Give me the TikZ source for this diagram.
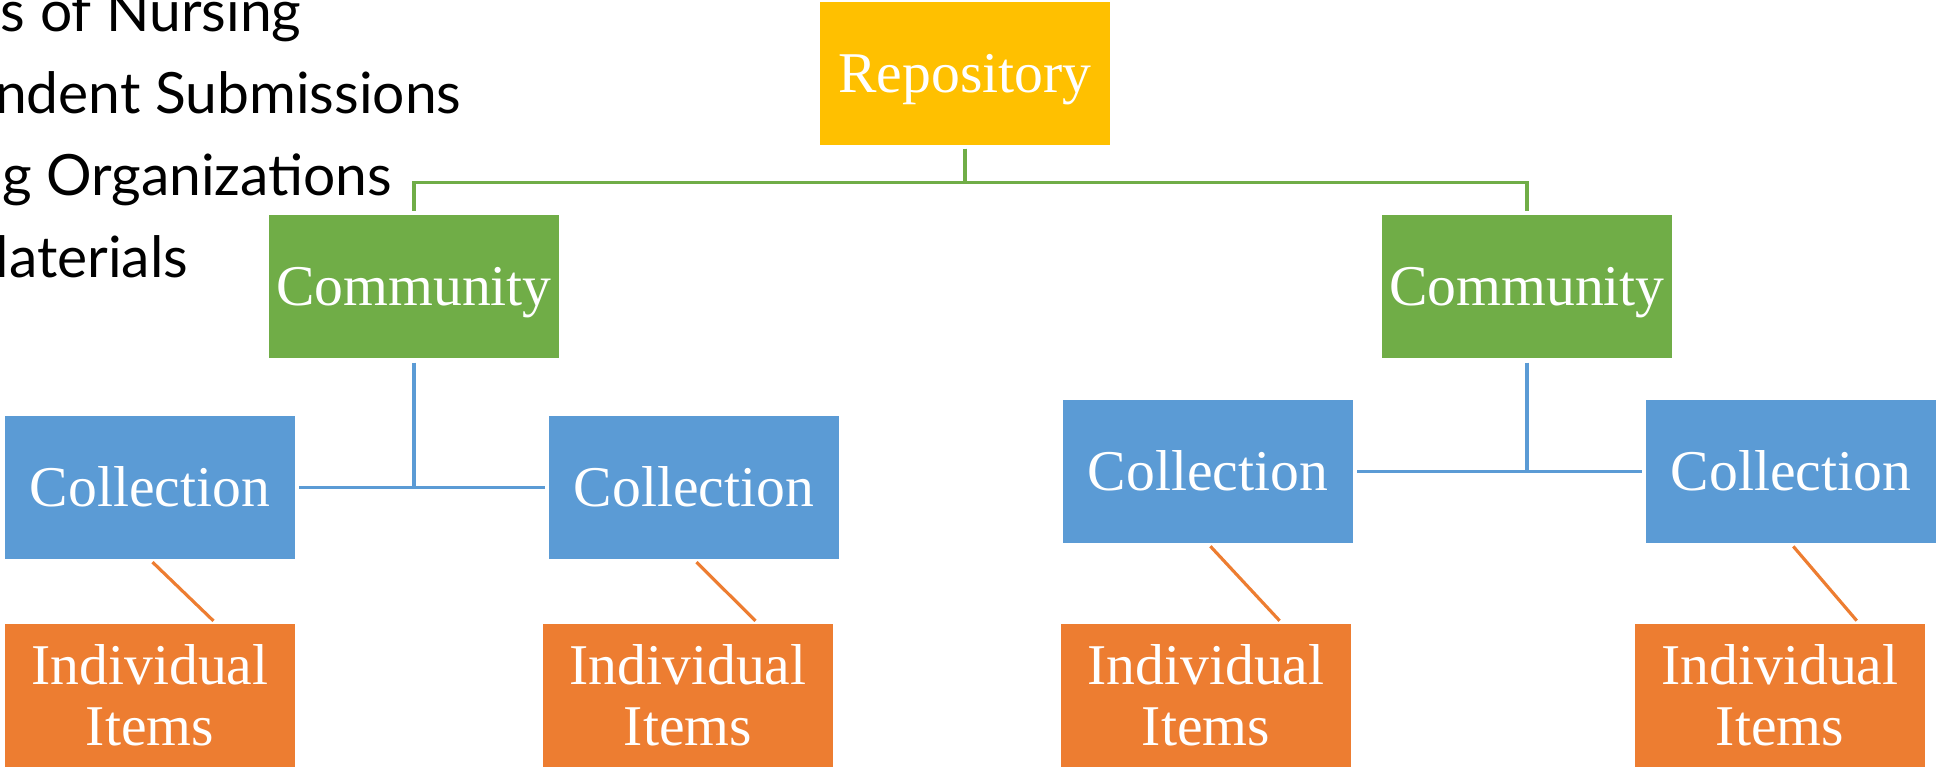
\documentclass[tikz,border=0pt]{standalone}
\usepackage{fontspec}
\setmainfont{Liberation Serif}
\newfontfamily\listfont{Lato}
\definecolor{repogold}{HTML}{FFC000}
\definecolor{comgreen}{HTML}{70AD47}
\definecolor{colblue}{HTML}{5B9BD5}
\definecolor{itemorange}{HTML}{ED7D31}
\tikzset{box/.style = {minimum width = 2.9cm, minimum height = 1.43cm, inner sep = 0, text = white, align = center,
                       font = \fontsize{16.4}{17.3}\selectfont}}
\tikzset{wordbox/.style = {box, text height = 0.48cm, text depth = 0.10cm}}
\tikzset{link/.style = {line width = 0.9pt}}
\tikzset{gap/.style = {shorten <= 0.035cm, shorten >= 0.035cm}}
\tikzset{listline/.style = {anchor = base east, inner sep = 0, font = \listfont\fontsize{16.2}{18}\selectfont}}

\begin{document}
\begin{tikzpicture}
    \useasboundingbox (0,0) rectangle (19.36,-7.67);
    % cut-off list on the left
    \node[listline] (txt1) at (3.02,-0.31) {s of Nursing};
    \node[listline] (txt2) at (4.62,-1.13) {ndent Submissions};
    \node[listline] (txt3) at (3.93,-1.95) {g Organizations};
    \node[listline] (txt4) at (1.89,-2.77) {laterials};
    % boxes
    \node[wordbox, fill = repogold] (repo) at (9.65,-0.73) {Repository};
    \node[wordbox, fill = comgreen] (comL) at (4.14,-2.865) {Community};
    \node[wordbox, fill = comgreen] (comR) at (15.27,-2.865) {Community};
    \node[wordbox, fill = colblue] (colL1) at (1.50,-4.875) {Collection};
    \node[wordbox, fill = colblue] (colL2) at (6.94,-4.875) {Collection};
    \node[wordbox, fill = colblue] (colR1) at (12.08,-4.715) {Collection};
    \node[wordbox, fill = colblue] (colR2) at (17.91,-4.715) {Collection};
    \node[box, fill = itemorange] (itemL1) at (1.50,-6.955) {Individual\\Items};
    \node[box, fill = itemorange] (itemL2) at (6.88,-6.955) {Individual\\Items};
    \node[box, fill = itemorange] (itemR1) at (12.06,-6.955) {Individual\\Items};
    \node[box, fill = itemorange] (itemR2) at (17.80,-6.955) {Individual\\Items};
    % repository -> communities
    \draw[link, gap, comgreen] (repo.south) -- ++(0,-0.37) -| (comL.north);
    \draw[link, gap, comgreen] (repo.south) -- ++(0,-0.37) -| (comR.north);
    % communities -> collections
    \draw[link, colblue, shorten <= 0.04cm] (comL.south) -- (comL.south |- colL1.east);
    \draw[link, gap, colblue] (colL1.east) -- (colL2.west);
    \draw[link, colblue, shorten <= 0.04cm] (comR.south) -- (comR.south |- colR1.east);
    \draw[link, gap, colblue] (colR1.east) -- (colR2.west);
    % collections -> items
    \draw[link, gap, itemorange] (colL1.south) -- ([xshift = 0.66cm]itemL1.north);
    \draw[link, gap, itemorange] (colL2.south) -- ([xshift = 0.70cm]itemL2.north);
    \draw[link, gap, itemorange] (colR1.south) -- ([xshift = 0.76cm]itemR1.north);
    \draw[link, gap, itemorange] (colR2.south) -- ([xshift = 0.79cm]itemR2.north);
\end{tikzpicture}
\end{document}
